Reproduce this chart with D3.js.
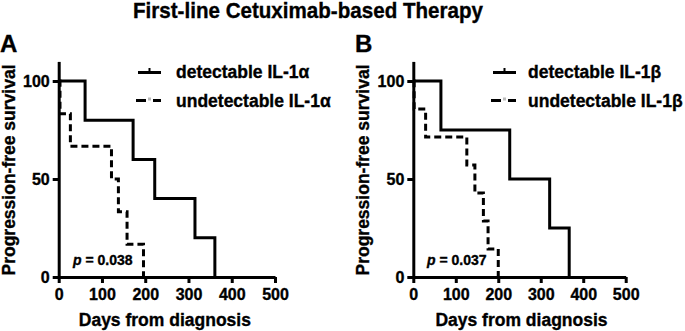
<!DOCTYPE html>
<html>
<head>
<meta charset="utf-8">
<script src="https://cdn.jsdelivr.net/npm/d3@7"></script>
<style>
  html, body { margin: 0; padding: 0; background: #fff; }
  svg { display: block; font-family: "Liberation Sans", Arial, Helvetica, sans-serif; font-weight: bold; }
  svg text { stroke: #000; stroke-width: 0.35px; fill: #000; }
</style>
</head>
<body>
<svg id="chart" width="685" height="331"></svg>
<script>
// Kaplan–Meier step data: event times (days) and % progression-free
const timesDetA = [0, 61, 172, 222, 315, 361];
const survDetA  = [100, 80, 60, 40, 20, 0];
const timesUndA = [0, 3, 27, 122, 138, 158, 196];
const survUndA  = [100, 83.3, 66.7, 50, 33.3, 16.7, 0];

const timesDetB = [0, 65, 227, 321, 367];
const survDetB  = [100, 75, 50, 25, 0];
const timesUndB = [0, 2, 29, 126, 145, 165, 176, 200];
const survUndB  = [100, 85.7, 71.4, 57.1, 42.9, 28.6, 14.3, 0];

const xTicks = [0, 100, 200, 300, 400, 500];
const yTicks = [0, 50, 100];

const panelLetters = ["A", "B"];
const legendA = ["detectable IL-1α", "undetectable IL-1α"];
const legendB = ["detectable IL-1β", "undetectable IL-1β"];
const pValues = ["0.038", "0.037"];

const titleText = "First-line Cetuximab-based Therapy";
const xLabel = "Days from diagnosis";
const yLabel = "Progression-free survival";

const svg = d3.select("#chart");

svg.append("text")
  .attr("x", 133).attr("y", 18)
  .attr("font-size", 21.5)
  .attr("textLength", 350).attr("lengthAdjust", "spacingAndGlyphs")
  .text(titleText);

const panels = [
  { letter: panelLetters[0], x0: 58.7, x1: 275, legend: legendA, p: pValues[0],
    det: d3.zip(timesDetA, survDetA), und: d3.zip(timesUndA, survUndA),
    letterX: 0, legX: 138, textX: 176, pX: 73, labelShift: -2 },
  { letter: panelLetters[1], x0: 413.3, x1: 625.7, legend: legendB, p: pValues[1],
    det: d3.zip(timesDetB, survDetB), und: d3.zip(timesUndB, survUndB),
    letterX: 355, legX: 493, textX: 528, pX: 427, labelShift: 2 }
];

const yBottom = 277, yTop = 61.4;

panels.forEach(pn => {
  const g = svg.append("g");
  const x = d3.scaleLinear().domain([0, 500]).range([pn.x0, pn.x1]);
  const y = d3.scaleLinear().domain([0, 110]).range([yBottom, yTop]);

  // panel letter
  g.append("text").attr("x", pn.letterX).attr("y", 52)
    .attr("font-size", 24).text(pn.letter);

  // survival curves
  const line = d3.line().x(d => x(d[0])).y(d => y(d[1])).curve(d3.curveStepAfter);
  g.append("path").datum(pn.und).attr("d", line)
    .attr("fill", "none").attr("stroke", "#000").attr("stroke-width", 3)
    .attr("stroke-dasharray", "7,4");
  g.append("path").datum(pn.det).attr("d", line)
    .attr("fill", "none").attr("stroke", "#000").attr("stroke-width", 3)
    .attr("stroke-linejoin", "miter");

  // axes
  const xAxis = g.append("g").attr("transform", `translate(0,${yBottom})`)
    .call(d3.axisBottom(x).tickValues(xTicks).tickSize(6).tickSizeOuter(0).tickPadding(6));
  const yAxis = g.append("g").attr("transform", `translate(${pn.x0},0)`)
    .call(d3.axisLeft(y).tickValues(yTicks).tickSize(6).tickSizeOuter(0).tickPadding(3));
  [xAxis, yAxis].forEach(a => {
    a.attr("font-size", 16).attr("font-family", "Liberation Sans, Arial, sans-serif");
    a.select(".domain").attr("stroke", "#000").attr("stroke-width", 3);
    a.selectAll(".tick line").attr("stroke", "#000").attr("stroke-width", 3);
    a.selectAll(".tick text").attr("fill", "#000").attr("font-weight", "bold");
  });

  // axis titles
  g.append("text").attr("x", (pn.x0 + pn.x1) / 2 + pn.labelShift).attr("y", 326)
    .attr("text-anchor", "middle").attr("font-size", 17.5).text(xLabel);
  g.append("text")
    .attr("transform", `translate(${pn.x0 - 44},170) rotate(-90)`)
    .attr("text-anchor", "middle").attr("font-size", 17.5).text(yLabel);

  // legend
  const ly1 = 72.5, ly2 = 100.5;
  g.append("line").attr("x1", pn.legX).attr("x2", pn.legX + 23)
    .attr("y1", ly1).attr("y2", ly1).attr("stroke", "#000").attr("stroke-width", 3);
  g.append("rect").attr("x", pn.legX + 10.5).attr("y", ly1 - 4.5).attr("width", 2).attr("height", 4).attr("fill", "#000");
  g.append("line").attr("x1", pn.legX - 2).attr("x2", pn.legX + 8)
    .attr("y1", ly2).attr("y2", ly2).attr("stroke", "#000").attr("stroke-width", 3);
  g.append("line").attr("x1", pn.legX + 15).attr("x2", pn.legX + 23)
    .attr("y1", ly2).attr("y2", ly2).attr("stroke", "#000").attr("stroke-width", 3);
  g.append("rect").attr("x", pn.legX + 10).attr("y", ly2 - 3).attr("width", 3).attr("height", 3).attr("fill", "#bbb");
  g.append("text").attr("x", pn.textX).attr("y", 78).attr("font-size", 17.5).text(pn.legend[0]);
  g.append("text").attr("x", pn.textX).attr("y", 106.5).attr("font-size", 17.5).text(pn.legend[1]);

  // log-rank p value
  const pt = g.append("text").attr("x", pn.pX).attr("y", 265).attr("font-size", 14);
  pt.append("tspan").attr("font-style", "italic").text("p");
  pt.append("tspan").text(" = " + pn.p);
});
</script>
</body>
</html>
